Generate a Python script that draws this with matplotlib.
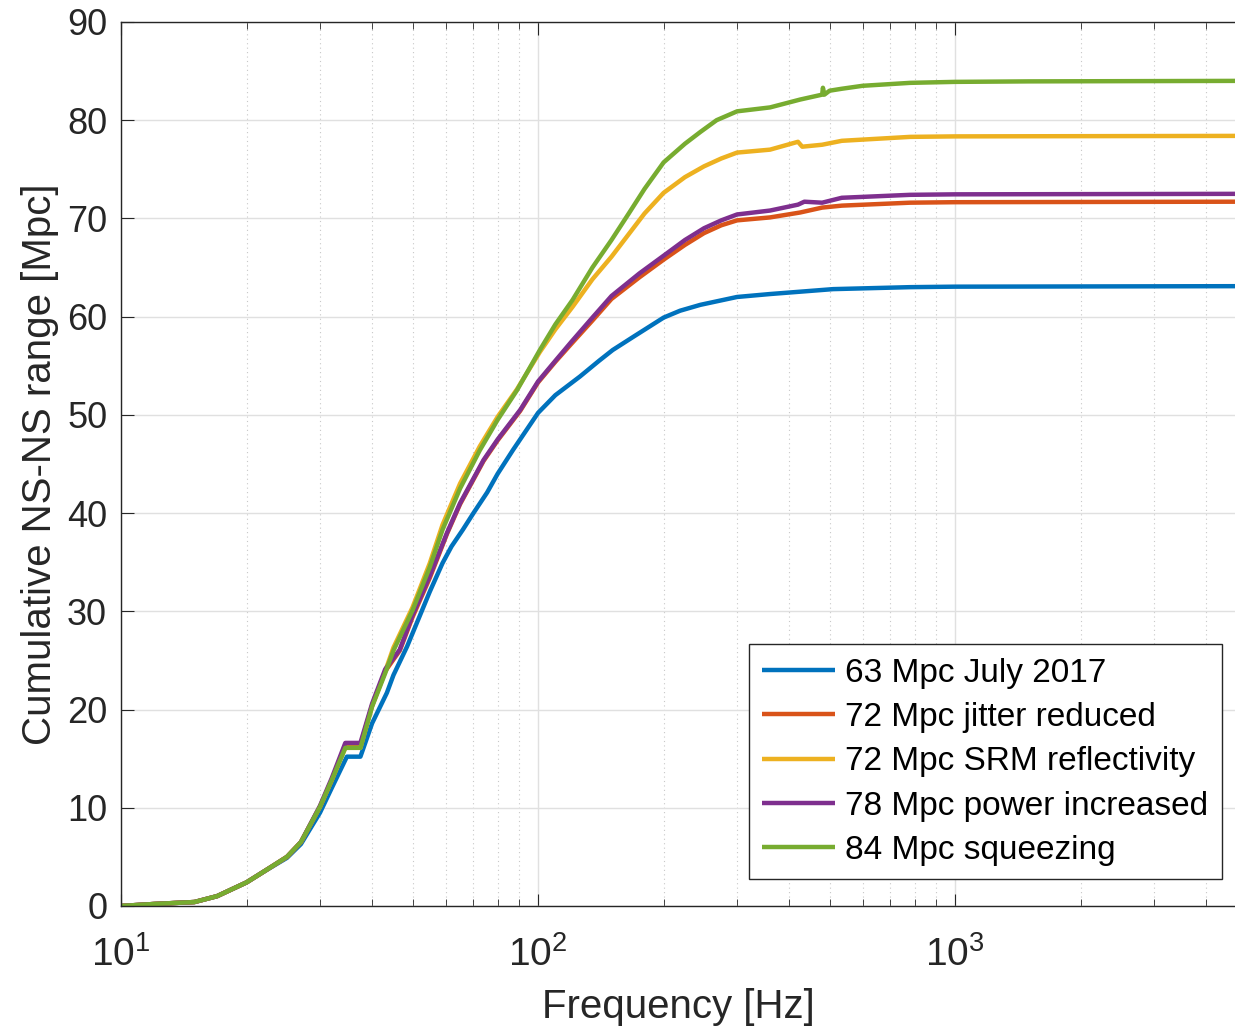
import numpy as np
import matplotlib
matplotlib.use("Agg")
import matplotlib.pyplot as plt
from matplotlib.ticker import LogLocator, NullFormatter

plt.rcParams['font.family'] = ['Liberation Sans', 'DejaVu Sans']
plt.rcParams['mathtext.fontset'] = 'custom'
plt.rcParams['mathtext.rm'] = 'Liberation Sans'
plt.rcParams['mathtext.it'] = 'Liberation Sans:italic'

# cumulative range curves
f_blue = [10, 12, 15, 17, 20, 22, 25, 27, 30, 32, 34.8, 37.5, 40, 43.4, 45, 48.5, 52, 55, 59, 62, 66,
          70, 75.5, 80, 87, 100, 110, 126, 140, 151, 170, 200, 219, 245, 300, 360, 510, 780, 1000, 4700]
r_blue = [0, 0.2, 0.4, 1.0, 2.4, 3.5, 4.9, 6.3, 9.5, 12.0, 15.2, 15.2, 18.6, 21.7, 23.5, 26.4, 29.5, 32.0,
          34.9, 36.6, 38.3, 40.0, 42.1, 44.0, 46.4, 50.2, 52.0, 53.9, 55.5, 56.6, 58.0, 59.9, 60.6, 61.2,
          62.0, 62.3, 62.8, 63.0, 63.05, 63.1]

f_orange = [10, 12, 15, 17, 20, 22, 25, 27, 30, 32, 34.5, 37.5, 40, 43, 46.6, 50, 55, 60.5, 65, 74, 80,
            90.6, 100, 110, 120, 135, 150, 175, 200, 225, 250, 275, 300, 360, 425, 480, 535, 780, 1000, 4700]
r_orange = [0, 0.2, 0.4, 1.0, 2.4, 3.5, 5.0, 6.5, 10.1, 12.8, 16.4, 16.4, 20.4, 23.9, 26.0, 29.4, 33.4,
            37.9, 40.9, 45.3, 47.4, 50.4, 53.3, 55.4, 57.2, 59.6, 61.8, 64.0, 65.8, 67.3, 68.5, 69.3, 69.8,
            70.1, 70.6, 71.1, 71.3, 71.6, 71.65, 71.7]

f_yellow = [10, 12, 15, 17, 20, 22, 25, 27, 30, 32, 34.5, 37.5, 40, 43, 45, 50, 55, 59, 65, 72.5, 80, 89,
            101, 110, 121, 135, 150, 180, 200, 225, 250, 275, 300, 360, 420, 430, 480, 535, 780, 1000, 4700]
r_yellow = [0, 0.2, 0.4, 1.0, 2.4, 3.5, 5.0, 6.5, 10.1, 12.8, 16.1, 16.1, 20.4, 23.9, 26.3, 30.4, 34.9,
            38.8, 43.0, 46.8, 49.8, 52.6, 56.4, 58.7, 61.0, 63.8, 66.1, 70.5, 72.6, 74.2, 75.3, 76.1, 76.7,
            77.0, 77.8, 77.3, 77.5, 77.9, 78.3, 78.35, 78.4]

f_purple = [10, 12, 15, 17, 20, 22, 25, 27, 30, 32, 34.5, 37.5, 40, 43, 46.6, 50, 55, 60.5, 65, 74, 80,
            90.6, 100, 110, 120, 135, 150, 175, 200, 225, 250, 275, 300, 360, 420, 435, 480, 535, 780, 1000, 4700]
r_purple = [0, 0.2, 0.4, 1.0, 2.4, 3.5, 5.0, 6.5, 10.2, 13.0, 16.6, 16.6, 20.6, 24.1, 26.1, 29.6, 33.6,
            38.0, 41.0, 45.4, 47.5, 50.5, 53.4, 55.5, 57.4, 59.9, 62.1, 64.4, 66.2, 67.8, 69.0, 69.8, 70.4,
            70.8, 71.4, 71.7, 71.6, 72.1, 72.4, 72.45, 72.5]

f_green = [10, 12, 15, 17, 20, 22, 25, 27, 30, 32, 34.5, 37.5, 40, 43, 45, 50, 55, 59, 65, 72.5, 80, 89,
           101, 110, 121, 135, 150, 165, 180, 200, 225, 245, 268, 300, 360, 425, 480, 482, 486, 500, 535,
           600, 780, 1000, 1500, 4700]
r_green = [0, 0.2, 0.4, 1.0, 2.4, 3.5, 5.0, 6.5, 10.1, 12.8, 16.1, 16.1, 20.3, 23.7, 26.0, 30.1, 34.5,
           38.3, 42.5, 46.4, 49.5, 52.5, 56.6, 59.2, 61.7, 65.0, 67.8, 70.5, 73.0, 75.7, 77.6, 78.8, 80.0,
           80.9, 81.3, 82.1, 82.6, 83.3, 82.6, 83.0, 83.2, 83.5, 83.8, 83.9, 83.95, 84.0]

labels = ['63 Mpc July 2017', '72 Mpc jitter reduced', '72 Mpc SRM reflectivity',
          '78 Mpc power increased', '84 Mpc squeezing']
colors = ['#0072BD', '#D95319', '#EDB120', '#7E2F8E', '#77AC30']

fig = plt.figure(figsize=(12.35, 10.26), dpi=100)
ax = fig.add_axes([0.098, 0.117, 0.902, 0.8616])

series = [(f_blue, r_blue), (f_orange, r_orange), (f_yellow, r_yellow),
          (f_purple, r_purple), (f_green, r_green)]
for (f, r), c, lab in zip(series, colors, labels):
    ax.semilogx(f, r, color=c, lw=3.2, label=lab, solid_capstyle='butt')

ax.set_xlim(10, 4690)
ax.set_ylim(0, 90)
ax.set_yticks(np.arange(0, 91, 10))
ax.xaxis.set_minor_locator(LogLocator(base=10, subs=np.arange(2, 10), numticks=20))
ax.xaxis.set_minor_formatter(NullFormatter())

ax.grid(True, which='major', color='#e0e0e0', lw=1.0, ls='-')
ax.grid(True, which='minor', axis='x', color='#c8c8c8', lw=0.8, ls=(0, (1, 3)))
ax.set_axisbelow(True)

ax.spines['right'].set_visible(False)
for s in ['left', 'top', 'bottom']:
    ax.spines[s].set_color('#262626')
    ax.spines[s].set_linewidth(1.0)
ax.tick_params(which='both', direction='in', top=True, right=False, colors='#262626', labelsize=26)
ax.tick_params(which='major', length=9)
ax.tick_params(which='minor', length=5)
ax.tick_params(axis='x', pad=22, labelsize=28)
ax.tick_params(axis='y', pad=10)

ax.set_xlabel('Frequency [Hz]', fontsize=29, color='#262626', labelpad=10)
ax.set_ylabel('Cumulative NS-NS range [Mpc]', fontsize=29, color='#262626', labelpad=6)

leg = ax.legend(loc='lower right', bbox_to_anchor=(0.988, 0.03), fontsize=24, frameon=True,
                fancybox=False, framealpha=1, edgecolor='#262626', handlelength=2.2,
                handletextpad=0.3, labelspacing=0.4, borderpad=0.4, borderaxespad=0)
leg.get_frame().set_linewidth(1.0)

fig.savefig('out.png', dpi=100)
